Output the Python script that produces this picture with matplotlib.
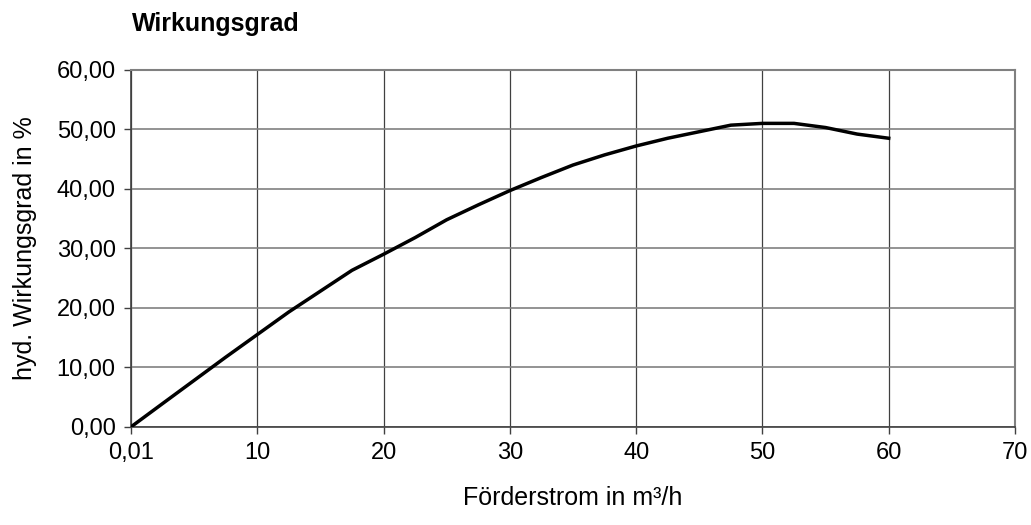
import numpy as np
import matplotlib.pyplot as plt

plt.rcParams['font.family'] = ['Liberation Sans', 'DejaVu Sans']

# Förderstrom (m³/h) und hydraulischer Wirkungsgrad (%)
flow = [0.01, 2.5, 5, 7.5, 10, 12.5, 15, 17.5, 20, 22.5, 25, 27.5, 30,
        32.5, 35, 37.5, 40, 42.5, 45, 47.5, 50, 52.5, 55, 57.5, 60]
eff = [0.0, 3.9, 7.8, 11.7, 15.5, 19.3, 22.8, 26.3, 29.0, 31.8, 34.8, 37.3, 39.7,
       41.9, 44.0, 45.7, 47.2, 48.5, 49.6, 50.7, 51.0, 51.0, 50.3, 49.2, 48.5]

x_ticks = [0, 10, 20, 30, 40, 50, 60, 70]
x_labels = ['0,01', '10', '20', '30', '40', '50', '60', '70']
y_ticks = [0, 10, 20, 30, 40, 50, 60]

fig = plt.figure(figsize=(10.31, 5.25), dpi=100)
ax = fig.add_axes([0.127, 0.187, 0.8575, 0.68])

ax.plot(flow, eff, color='black', lw=2.5, solid_joinstyle='miter', zorder=3)

ax.set_xlim(0, 70)
ax.set_ylim(0, 60)
ax.set_xticks(x_ticks)
ax.set_xticklabels(x_labels)
ax.set_yticks(y_ticks)
ax.set_yticklabels([f'{v:.2f}'.replace('.', ',') for v in y_ticks])

# Gitter: horizontal grau, vertikal dunkler
ax.grid(axis='y', color='#808080', lw=1.2)
ax.grid(axis='x', color='#404040', lw=0.9)
ax.set_axisbelow(True)

for side in ['top', 'right']:
    ax.spines[side].set_color('#808080')
    ax.spines[side].set_linewidth(1.5)
for side in ['left', 'bottom']:
    ax.spines[side].set_color('#404040')
    ax.spines[side].set_linewidth(1.2)

ax.tick_params(direction='out', length=5, width=1, color='#404040',
               labelsize=17, pad=6)

ax.set_xlabel('Förderstrom in m³/h', fontsize=18, labelpad=16)
ax.set_ylabel('hyd. Wirkungsgrad in %', fontsize=18, labelpad=14)
fig.text(0.128, 0.955, 'Wirkungsgrad', fontsize=18, fontweight='bold',
         ha='left', va='center')

fig.savefig('out.png', dpi=100)
